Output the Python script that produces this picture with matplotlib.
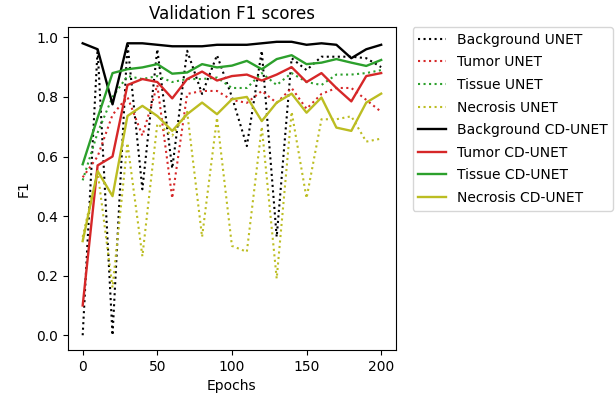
import numpy as np
import matplotlib
matplotlib.use('Agg')
import matplotlib.pyplot as plt

# Epochs (validation every 10 epochs)
epochs = list(range(0, 201, 10))

# UNET validation F1 scores
bg_unet = [0.00, 0.96, 0.00, 0.98, 0.49, 0.96, 0.56, 0.955, 0.81, 0.94, 0.80,
           0.635, 0.955, 0.33, 0.93, 0.89, 0.935, 0.935, 0.935, 0.93, 0.90]
tumor_unet = [0.53, 0.60, 0.74, 0.80, 0.67, 0.84, 0.46, 0.81, 0.82, 0.82, 0.79,
              0.78, 0.82, 0.78, 0.83, 0.76, 0.81, 0.83, 0.83, 0.79, 0.75]
tissue_unet = [0.52, 0.68, 0.80, 0.87, 0.86, 0.87, 0.85, 0.86, 0.86, 0.865, 0.83,
               0.83, 0.88, 0.84, 0.88, 0.85, 0.84, 0.875, 0.875, 0.88, 0.89]
necrosis_unet = [0.33, 0.55, 0.16, 0.645, 0.265, 0.71, 0.67, 0.75, 0.33, 0.73, 0.30,
                 0.28, 0.70, 0.19, 0.75, 0.46, 0.725, 0.725, 0.735, 0.65, 0.66]

# CD-UNET validation F1 scores
bg_cd = [0.98, 0.96, 0.775, 0.98, 0.98, 0.975, 0.97, 0.97, 0.97, 0.975, 0.975,
         0.975, 0.98, 0.985, 0.985, 0.975, 0.98, 0.975, 0.93, 0.96, 0.975]
tumor_cd = [0.10, 0.57, 0.60, 0.84, 0.86, 0.85, 0.795, 0.86, 0.885, 0.855, 0.87,
            0.875, 0.855, 0.875, 0.90, 0.85, 0.88, 0.83, 0.785, 0.87, 0.88]
tissue_cd = [0.574, 0.73, 0.88, 0.893, 0.899, 0.91, 0.878, 0.882, 0.91, 0.899, 0.905,
             0.921, 0.893, 0.927, 0.94, 0.91, 0.915, 0.927, 0.915, 0.904, 0.924]
necrosis_cd = [0.316, 0.551, 0.467, 0.736, 0.77, 0.736, 0.686, 0.742, 0.781, 0.742, 0.792,
               0.80, 0.719, 0.781, 0.811, 0.747, 0.798, 0.697, 0.686, 0.781, 0.811]

fig = plt.figure(figsize=(6.16, 3.99), dpi=100)
ax = fig.add_axes([0.110, 0.123, 0.533, 0.809])

ax.plot(epochs, bg_unet, ':', color='k', label='Background UNET')
ax.plot(epochs, tumor_unet, ':', color='tab:red', label='Tumor UNET')
ax.plot(epochs, tissue_unet, ':', color='tab:green', label='Tissue UNET')
ax.plot(epochs, necrosis_unet, ':', color='tab:olive', label='Necrosis UNET')
ax.plot(epochs, bg_cd, '-', color='k', lw=1.7, label='Background CD-UNET')
ax.plot(epochs, tumor_cd, '-', color='tab:red', lw=1.7, label='Tumor CD-UNET')
ax.plot(epochs, tissue_cd, '-', color='tab:green', lw=1.7, label='Tissue CD-UNET')
ax.plot(epochs, necrosis_cd, '-', color='tab:olive', lw=1.7, label='Necrosis CD-UNET')

ax.set_title('Validation F1 scores')
ax.set_xlabel('Epochs')
ax.set_ylabel('F1')
ax.set_xticks([0, 50, 100, 150, 200])
ax.legend(bbox_to_anchor=(1.05, 1), loc='upper left', borderaxespad=0.,
          labelspacing=0.62)

fig.savefig('out.png', dpi=100)
